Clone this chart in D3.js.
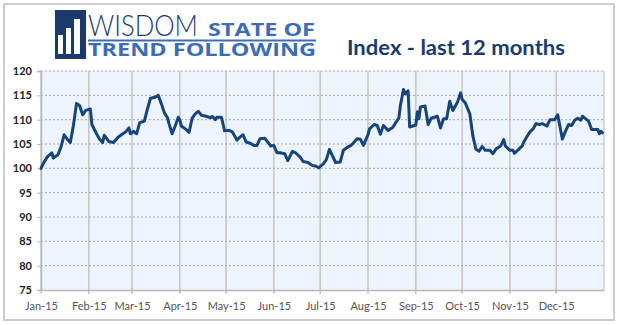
<!DOCTYPE html>
<html>
<head>
<meta charset="utf-8">
<script src="https://cdn.jsdelivr.net/npm/d3@7/dist/d3.min.js"></script>
<style>
  html, body { margin: 0; padding: 0; background: #fff; }
  svg { display: block; }
</style>
</head>
<body>
<svg id="chart" width="618" height="325"></svg>
<script>
// ---- data ----
const dates = [
  "2015-01-01","2015-01-03","2015-01-05","2015-01-08","2015-01-09","2015-01-12","2015-01-14","2015-01-16","2015-01-18","2015-01-20",
  "2015-01-22","2015-01-24","2015-01-26","2015-01-28","2015-01-30","2015-02-02","2015-02-03","2015-02-06","2015-02-08","2015-02-10",
  "2015-02-11","2015-02-14","2015-02-17","2015-02-20","2015-02-23","2015-02-25","2015-02-27","2015-02-28","2015-03-02","2015-03-04",
  "2015-03-06","2015-03-09","2015-03-11","2015-03-13","2015-03-16","2015-03-18","2015-03-20","2015-03-22","2015-03-24","2015-03-25",
  "2015-03-27","2015-03-29","2015-03-31","2015-04-01","2015-04-02","2015-04-05","2015-04-07","2015-04-09","2015-04-11","2015-04-13",
  "2015-04-15","2015-04-18","2015-04-21","2015-04-22","2015-04-24","2015-04-25","2015-04-28","2015-04-30","2015-05-03","2015-05-05",
  "2015-05-08","2015-05-10","2015-05-12","2015-05-14","2015-05-17","2015-05-19","2015-05-21","2015-05-23","2015-05-26","2015-05-28",
  "2015-05-30","2015-06-01","2015-06-03","2015-06-05","2015-06-08","2015-06-10","2015-06-13","2015-06-15","2015-06-18","2015-06-20",
  "2015-06-23","2015-06-26","2015-06-28","2015-06-30","2015-07-03","2015-07-05","2015-07-07","2015-07-11","2015-07-14","2015-07-16",
  "2015-07-19","2015-07-21","2015-07-25","2015-07-27","2015-07-29","2015-08-01","2015-08-02","2015-08-05","2015-08-07","2015-08-09",
  "2015-08-11","2015-08-14","2015-08-17","2015-08-19","2015-08-21","2015-08-22","2015-08-24","2015-08-25","2015-08-27","2015-08-28",
  "2015-09-01","2015-09-02","2015-09-03","2015-09-04","2015-09-07","2015-09-09","2015-09-11","2015-09-15","2015-09-17","2015-09-19",
  "2015-09-21","2015-09-23","2015-09-25","2015-09-28","2015-09-30","2015-10-01","2015-10-03","2015-10-06","2015-10-08","2015-10-10",
  "2015-10-12","2015-10-14","2015-10-16","2015-10-19","2015-10-21","2015-10-23","2015-10-26","2015-10-28","2015-10-29","2015-11-01",
  "2015-11-03","2015-11-04","2015-11-07","2015-11-09","2015-11-10","2015-11-12","2015-11-14","2015-11-16","2015-11-18","2015-11-20",
  "2015-11-22","2015-11-25","2015-11-27","2015-11-30","2015-12-02","2015-12-05","2015-12-07","2015-12-09","2015-12-11","2015-12-13",
  "2015-12-15","2015-12-17","2015-12-18","2015-12-20","2015-12-22","2015-12-24","2015-12-26","2015-12-28","2015-12-29","2015-12-30",
  "2015-12-31"
];
const indexValues = [
  100.0,101.3,102.3,103.2,102.1,102.8,104.4,106.9,106.0,105.3,
  108.8,113.3,112.9,111.0,111.9,112.2,109.0,107.1,106.0,105.3,
  106.8,105.5,105.3,106.4,107.1,107.5,108.3,107.1,107.6,107.1,
  109.4,109.7,112.2,114.4,114.6,115.0,113.3,111.4,110.4,109.2,
  107.1,108.7,110.5,109.9,108.7,108.0,107.4,110.3,111.2,111.7,
  110.9,110.7,110.4,110.7,110.0,110.5,110.5,107.7,107.8,107.5,
  105.8,106.4,106.9,105.4,105.1,104.7,104.7,106.1,106.2,105.4,
  104.6,104.7,103.2,103.2,103.0,101.6,103.5,103.2,102.3,101.4,
  101.2,100.6,100.5,100.1,100.9,101.8,103.9,101.2,101.3,103.7,
  104.4,104.7,106.1,106.0,104.7,106.9,108.1,109.0,108.8,107.0,
  108.8,107.8,108.4,109.4,110.3,112.9,116.2,115.3,115.9,108.5,
  108.9,111.6,110.2,112.6,112.8,109.0,110.3,110.7,108.3,110.2,
  110.2,113.8,111.9,113.6,115.5,114.2,113.5,111.2,106.6,103.9,
  103.5,104.5,103.7,103.7,103.0,104.0,104.6,105.9,104.6,103.7,
  103.7,103.1,104.0,104.6,105.4,106.5,107.5,108.1,109.2,109.0,
  109.2,108.7,110.0,110.0,111.0,106.0,107.6,109.0,108.8,109.9,
  110.3,109.9,110.7,110.2,109.7,108.0,108.0,108.0,107.1,107.6,
  107.3
];
const yTicks = [75, 80, 85, 90, 95, 100, 105, 110, 115, 120];
const monthTicks = ["2015-01-01","2015-02-01","2015-03-01","2015-04-01","2015-05-01","2015-06-01",
                    "2015-07-01","2015-08-01","2015-09-01","2015-10-01","2015-11-01","2015-12-01"];
const monthLabels = ["Jan-15","Feb-15","Mar-15","Apr-15","May-15","Jun-15","Jul-15","Aug-15","Sep-15","Oct-15","Nov-15","Dec-15"];
const titleText = "Index - last 12 months";

// ---- layout ----
const parse = d3.timeParse("%Y-%m-%d");
const svg = d3.select("#chart");
const plot = { left: 41, right: 604, top: 71, bottom: 290 };

const x = d3.scaleTime()
  .domain([parse("2015-01-01"), parse("2016-01-01")])
  .range([plot.left, plot.right]);
const y = d3.scaleLinear().domain([75, 120]).range([plot.bottom, plot.top]);

// outer frame
svg.append("rect").attr("x", 4).attr("y", 4).attr("width", 610).attr("height", 316)
  .attr("fill", "#fff").attr("stroke", "#cdcdcd").attr("stroke-width", 2);

// plot background
svg.append("rect")
  .attr("x", plot.left).attr("y", plot.top)
  .attr("width", plot.right - plot.left).attr("height", plot.bottom - plot.top)
  .attr("fill", "#eef4fc");

// vertical month gridlines
svg.append("g").selectAll("line").data(monthTicks.map(parse)).join("line")
  .attr("x1", d => x(d)).attr("x2", d => x(d))
  .attr("y1", plot.top).attr("y2", plot.bottom + 4)
  .attr("stroke", "#c4c4c4").attr("stroke-width", 1.5);
// right border
svg.append("line").attr("x1", plot.right).attr("x2", plot.right)
  .attr("y1", plot.top).attr("y2", plot.bottom)
  .attr("stroke", "#cfcfcf").attr("stroke-width", 1.5);

// horizontal dashed gridlines
svg.append("g").selectAll("line").data(yTicks.filter(v => v > 75)).join("line")
  .attr("x1", plot.left).attr("x2", plot.right)
  .attr("y1", d => y(d)).attr("y2", d => y(d))
  .attr("stroke", "#a8a8a8").attr("stroke-width", 1).attr("stroke-dasharray", "2,2");

// axes
const yAxis = d3.axisLeft(y).tickValues(yTicks).tickSize(4).tickPadding(5);
const gy = svg.append("g").attr("transform", `translate(${plot.left},0)`).call(yAxis);
gy.select(".domain").attr("stroke", "#b8b8b8").attr("stroke-width", 1.5);
gy.selectAll(".tick line").attr("stroke", "#b8b8b8");
gy.selectAll(".tick text").attr("font-family", "Lato, 'Open Sans', sans-serif")
  .attr("font-weight", "bold").attr("font-size", 11).attr("fill", "#222");

const xAxis = d3.axisBottom(x).tickValues(monthTicks.map(parse))
  .tickFormat((d, i) => monthLabels[i]).tickSize(0).tickPadding(12);
const gx = svg.append("g").attr("transform", `translate(0,${plot.bottom})`).call(xAxis);
gx.select(".domain").attr("stroke", "#b8b8b8").attr("stroke-width", 1.5);
gx.selectAll(".tick text").attr("font-family", "Lato, 'Open Sans', sans-serif")
  .attr("font-size", 11).attr("fill", "#555");

// index line
const series = dates.map((d, i) => ({ date: parse(d), value: indexValues[i] }));
const line = d3.line().x(d => x(d.date)).y(d => y(d.value));
svg.append("path").datum(series)
  .attr("d", line)
  .attr("fill", "none").attr("stroke", "#17457a").attr("stroke-width", 3)
  .attr("stroke-linejoin", "round").attr("stroke-linecap", "round");

// ---- logo ----
const logo = svg.append("g");
logo.append("rect").attr("x", 55).attr("y", 10).attr("width", 31).attr("height", 49).attr("fill", "#1b3a6b");
[[58, 35, 5], [66, 28, 5], [74, 19, 6]].forEach(([bx, by, bw]) => {
  logo.append("rect").attr("x", bx).attr("y", by).attr("width", bw).attr("height", 54 - by).attr("fill", "#fff");
});
logo.append("text").attr("x", 88).attr("y", 36).text("WISDOM")
  .attr("font-family", "Lato, 'Open Sans', sans-serif").attr("font-weight", 300)
  .attr("font-size", 29).attr("fill", "#1b3a6b")
  .attr("textLength", 110).attr("lengthAdjust", "spacingAndGlyphs");
logo.append("text").attr("x", 208).attr("y", 36).text("STATE OF")
  .attr("font-family", "'Open Sans', Lato, sans-serif").attr("font-weight", "bold")
  .attr("font-size", 17).attr("fill", "#3b6db5")
  .attr("textLength", 107).attr("lengthAdjust", "spacingAndGlyphs");
logo.append("rect").attr("x", 88).attr("y", 39.5).attr("width", 228).attr("height", 2).attr("fill", "#3b6db5");
logo.append("text").attr("x", 88).attr("y", 56).text("TREND FOLLOWING")
  .attr("font-family", "'Open Sans', Lato, sans-serif").attr("font-weight", "bold")
  .attr("font-size", 17).attr("fill", "#3b6db5")
  .attr("textLength", 228).attr("lengthAdjust", "spacingAndGlyphs");

// title
svg.append("text").attr("x", 347).attr("y", 55).text(titleText)
  .attr("font-family", "Lato, 'Open Sans', sans-serif").attr("font-weight", "bold")
  .attr("font-size", 20).attr("fill", "#1c3a6e")
  .attr("textLength", 218).attr("lengthAdjust", "spacingAndGlyphs");
</script>
</body>
</html>
